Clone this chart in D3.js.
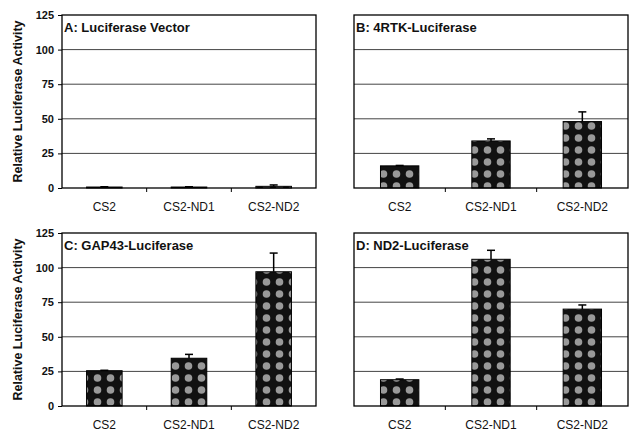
<!DOCTYPE html>
<html>
<head>
<meta charset="utf-8">
<script src="https://cdn.jsdelivr.net/npm/d3@7/dist/d3.min.js"></script>
<style>
  body { margin: 0; background: #fff; }
  text { font-family: Arial, "Liberation Sans", sans-serif; }
</style>
</head>
<body>
<svg id="chart" width="630" height="432"></svg>
<script>
const categories = ['CS2', 'CS2-ND1', 'CS2-ND2'];
const yTicks = [0, 25, 50, 75, 100, 125];
const gridValues = [25, 50, 75, 100];

const panelTitles = ['A: Luciferase Vector', 'B: 4RTK-Luciferase',
  'C: GAP43-Luciferase', 'D: ND2-Luciferase'];

const valuesA = [0.7, 0.7, 1.2];
const errorsA = [0.2, 0.2, 1.0];
const valuesB = [16, 34, 48];
const errorsB = [0.3, 1.5, 7];
const valuesC = [25.5, 34.5, 97];
const errorsC = [0.3, 2.8, 13.5];
const valuesD = [19, 106, 70];
const errorsD = [0.5, 6.5, 3];

const panelValues = [valuesA, valuesB, valuesC, valuesD];
const panelErrors = [errorsA, errorsB, errorsC, errorsD];

const svg = d3.select('#chart');

const cols = [[62, 316], [354, 628]];
const rows = [[15, 188], [233, 406]];

// halftone-like fill for the bars
const defs = svg.append('defs');
const pattern = defs.append('pattern')
  .attr('id', 'dots')
  .attr('patternUnits', 'userSpaceOnUse')
  .attr('width', 13)
  .attr('height', 12);
pattern.append('rect')
  .attr('width', 13)
  .attr('height', 12)
  .attr('fill', '#111');
pattern.append('circle')
  .attr('cx', 6.5)
  .attr('cy', 6)
  .attr('r', 3.8)
  .attr('fill', '#999');

panelTitles.forEach((title, i) => {
  const [x0, x1] = cols[i % 2];
  const [y0, y1] = rows[Math.floor(i / 2)];
  const values = panelValues[i];
  const errors = panelErrors[i];

  const x = d3.scaleBand().domain(categories).range([x0, x1]).paddingInner(0).paddingOuter(0);
  const y = d3.scaleLinear().domain([0, 125]).range([y1, y0]);
  const g = svg.append('g');

  g.selectAll('.grid')
    .data(gridValues)
    .enter()
    .append('line')
    .attr('class', 'grid')
    .attr('x1', x0)
    .attr('x2', x1)
    .attr('y1', (d) => y(d))
    .attr('y2', (d) => y(d))
    .attr('stroke', '#444')
    .attr('stroke-width', 1);

  const bw = x.bandwidth() * 0.42;

  g.selectAll('.bar')
    .data(values)
    .enter()
    .append('rect')
    .attr('class', 'bar')
    .attr('x', (d, j) => x(categories[j]) + x.bandwidth() / 2 - bw / 2)
    .attr('y', (d) => y(d))
    .attr('width', bw)
    .attr('height', (d) => y(0) - y(d))
    .attr('fill', 'url(#dots)')
    .attr('stroke', '#000')
    .attr('stroke-width', 1);

  const err = g.selectAll('.err')
    .data(values)
    .enter()
    .append('g')
    .attr('class', 'err');
  err.append('line')
    .attr('x1', (d, j) => x(categories[j]) + x.bandwidth() / 2)
    .attr('x2', (d, j) => x(categories[j]) + x.bandwidth() / 2)
    .attr('y1', (d) => y(d))
    .attr('y2', (d, j) => y(d + errors[j]))
    .attr('stroke', '#000')
    .attr('stroke-width', 1.5);
  err.append('line')
    .attr('x1', (d, j) => x(categories[j]) + x.bandwidth() / 2 - 4)
    .attr('x2', (d, j) => x(categories[j]) + x.bandwidth() / 2 + 4)
    .attr('y1', (d, j) => y(d + errors[j]))
    .attr('y2', (d, j) => y(d + errors[j]))
    .attr('stroke', '#000')
    .attr('stroke-width', 1.5);

  // frame
  g.append('rect')
    .attr('x', x0)
    .attr('y', y0)
    .attr('width', x1 - x0)
    .attr('height', y1 - y0)
    .attr('fill', 'none')
    .attr('stroke', '#000')
    .attr('stroke-width', 1.3);

  // x axis with ticks between categories
  const xAxis = g.append('g')
    .attr('transform', `translate(0,${y1})`)
    .call(d3.axisBottom(x).tickSize(0).tickPadding(14));
  xAxis.select('.domain').remove();
  xAxis.selectAll('text')
    .attr('font-size', '12px')
    .attr('fill', '#111');
  xAxis.selectAll('.sep')
    .data(categories.slice(1))
    .enter()
    .append('line')
    .attr('class', 'sep')
    .attr('x1', (d) => x(d))
    .attr('x2', (d) => x(d))
    .attr('y1', 0)
    .attr('y2', 4)
    .attr('stroke', '#000');

  if (i % 2 === 0) {
    const yAxis = g.append('g')
      .attr('transform', `translate(${x0},0)`)
      .call(d3.axisLeft(y).tickValues(yTicks).tickSize(4).tickPadding(4));
    yAxis.select('.domain').remove();
    yAxis.selectAll('text')
      .attr('font-size', '11px')
      .attr('font-weight', 'bold')
      .attr('fill', '#111');

    svg.append('text')
      .attr('transform', `translate(22,${(y0 + y1) / 2}) rotate(-90)`)
      .attr('text-anchor', 'middle')
      .attr('font-size', '12.5px')
      .attr('font-weight', 'bold')
      .attr('fill', '#111')
      .text('Relative Luciferase Activity');
  }

  g.append('text')
    .attr('x', x0 + 2)
    .attr('y', y0 + 17)
    .attr('font-size', '13px')
    .attr('font-weight', 'bold')
    .attr('fill', '#111')
    .text(title);
});
</script>
</body>
</html>
